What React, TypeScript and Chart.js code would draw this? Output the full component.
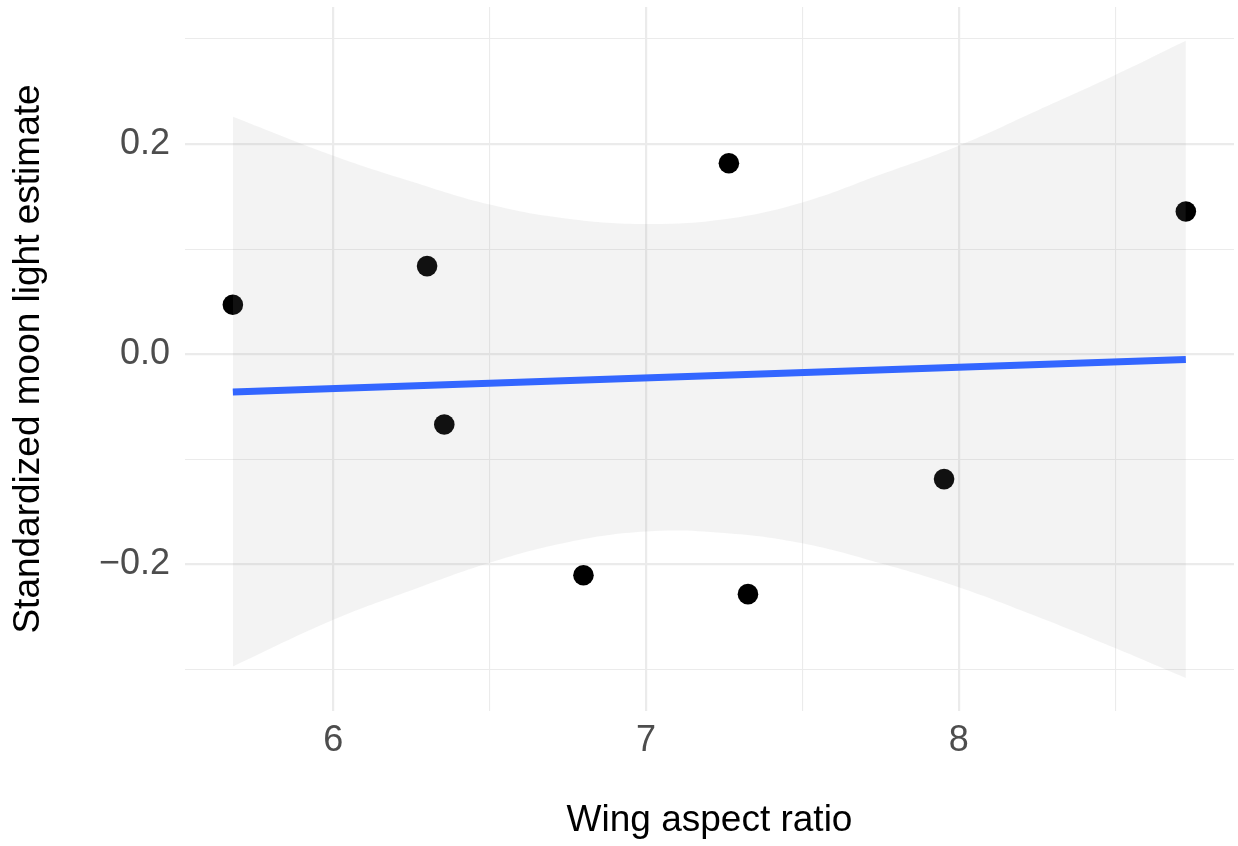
import React, { useEffect, useRef } from 'react';
import { Chart, registerables } from 'chart.js';

Chart.register(...registerables);

// Observed points
const pointX = [5.679, 6.3, 6.355, 6.8, 7.265, 7.326, 7.953, 8.726];
const pointY = [0.0472, 0.0839, -0.0668, -0.2103, 0.1818, -0.2283, -0.1188, 0.1359];

// Fitted regression line (end points)
const fitX = [5.679, 8.726];
const fitY = [-0.0358, -0.005];

// Confidence band
const bandX = [5.679, 6.0, 6.25, 6.5, 6.75, 7.0, 7.25, 7.5, 7.75, 8.0, 8.25, 8.5, 8.726];
const bandUpper = [0.2261, 0.189, 0.1645, 0.1425, 0.129, 0.124, 0.1285, 0.1445, 0.171, 0.1985, 0.2318, 0.2657, 0.2983];
const bandLower = [-0.2971, -0.2527, -0.2245, -0.1983, -0.1788, -0.1686, -0.17, -0.1799, -0.199, -0.2217, -0.2496, -0.2796, -0.3082];

// Axis ticks
const xTicks = [6, 6.5, 7, 7.5, 8, 8.5];
const xMajor = [6, 7, 8];
const yTicks = [-0.3, -0.2, -0.1, 0, 0.1, 0.2, 0.3];
const yMajor = [-0.2, 0, 0.2];

const xTitle = 'Wing aspect ratio';
const yTitle = 'Standardized moon light estimate';

const isIn = (arr: number[], v: number) => arr.some((a) => Math.abs(a - v) < 1e-9);
const fmtY = (v: number) => v.toFixed(1).replace('-', '\u2212');

const FONT = "'Liberation Sans', Arial, sans-serif";
const GRID = '#ebebeb';

const zeroPad = (scale: any) => {
  scale.paddingTop = 0;
  scale.paddingBottom = 0;
  scale.paddingLeft = 0;
  scale.paddingRight = 0;
};

export default function App() {
  const ref = useRef<HTMLCanvasElement | null>(null);

  useEffect(() => {
    if (!ref.current) return;
    const chart = new Chart(ref.current, {
      type: 'scatter',
      data: {
        datasets: [
          {
            label: 'points',
            data: pointX.map((x, i) => ({ x, y: pointY[i] })),
            backgroundColor: '#000000',
            borderWidth: 0,
            pointRadius: 10.3,
            pointHoverRadius: 10.3,
            showLine: false,
            order: 3,
          },
          {
            label: 'upper',
            data: bandX.map((x, i) => ({ x, y: bandUpper[i] })),
            showLine: true,
            borderWidth: 0,
            borderColor: 'rgba(0,0,0,0)',
            pointRadius: 0,
            fill: '+1',
            backgroundColor: 'rgba(153,153,153,0.114)',
            tension: 0.4,
            order: 2,
          },
          {
            label: 'lower',
            data: bandX.map((x, i) => ({ x, y: bandLower[i] })),
            showLine: true,
            borderWidth: 0,
            borderColor: 'rgba(0,0,0,0)',
            pointRadius: 0,
            fill: false,
            tension: 0.4,
            order: 2,
          },
          {
            label: 'fit',
            data: fitX.map((x, i) => ({ x, y: fitY[i] })),
            showLine: true,
            borderColor: '#3366FF',
            borderWidth: 7,
            borderCapStyle: 'butt',
            pointRadius: 0,
            fill: false,
            order: 1,
          },
        ],
      },
      options: {
        responsive: false,
        animation: false,
        devicePixelRatio: 1,
        layout: { autoPadding: false, padding: { left: 0, right: 4, top: 7, bottom: 0 } },
        plugins: {
          legend: { display: false },
          tooltip: { enabled: false },
        },
        scales: {
          x: {
            type: 'linear',
            min: 5.526,
            max: 8.88,
            afterBuildTicks: (scale: any) => {
              scale.ticks = xTicks.map((v) => ({ value: v }));
            },
            afterFit: (scale: any) => {
              scale.height = 135;
              zeroPad(scale);
            },
            border: { display: false },
            grid: {
              drawTicks: false,
              color: GRID,
              lineWidth: (ctx: any) => (isIn(xMajor, ctx.tick?.value) ? 2.2 : 1.1),
            },
            ticks: {
              autoSkip: false,
              maxRotation: 0,
              padding: 8,
              color: '#4d4d4d',
              font: { family: FONT, size: 36 },
              callback: (v: any) => (isIn(xMajor, Number(v)) ? String(v) : ''),
            },
            title: {
              display: true,
              text: xTitle,
              color: '#000000',
              font: { family: FONT, size: 37 },
              padding: { top: 0, bottom: 3 },
            },
          },
          y: {
            type: 'linear',
            min: -0.3395,
            max: 0.3305,
            afterBuildTicks: (scale: any) => {
              scale.ticks = yTicks.map((v) => ({ value: v }));
            },
            afterFit: (scale: any) => {
              scale.width = 185;
              zeroPad(scale);
            },
            border: { display: false },
            grid: {
              drawTicks: false,
              color: GRID,
              lineWidth: (ctx: any) => (isIn(yMajor, ctx.tick?.value) ? 2.2 : 1.1),
            },
            ticks: {
              autoSkip: false,
              padding: 15,
              color: '#4d4d4d',
              font: { family: FONT, size: 36 },
              callback: (v: any) => (isIn(yMajor, Number(v)) ? fmtY(Number(v)) : ''),
            },
            title: {
              display: true,
              text: yTitle,
              color: '#000000',
              font: { family: FONT, size: 37 },
              padding: { top: 7, bottom: 0 },
            },
          },
        },
      },
    } as any);
    return () => chart.destroy();
  }, []);

  return (
    <div style={{ position: 'fixed', left: 0, top: 0, width: 1238, height: 846, background: '#ffffff' }}>
      <canvas ref={ref} width={1238} height={846} style={{ width: 1238, height: 846, display: 'block' }} />
    </div>
  );
}
